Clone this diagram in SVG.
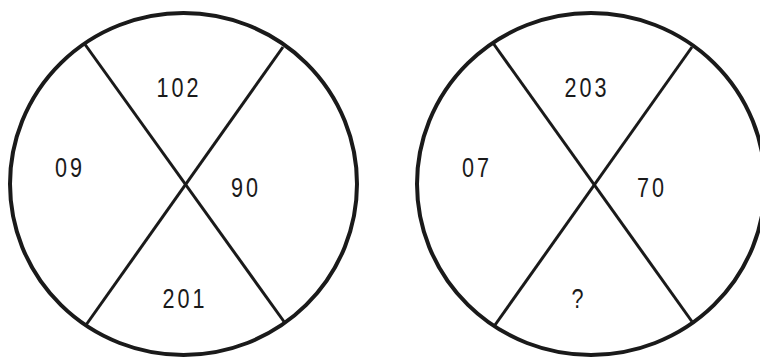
<svg xmlns="http://www.w3.org/2000/svg" width="760" height="358" viewBox="0 0 760 358">
<style>
.c{fill:none;stroke:#1a1a1a;stroke-width:4}
.l{stroke:#1a1a1a;stroke-width:3;stroke-linecap:butt}
.t{font-family:"Liberation Sans",Arial,sans-serif;font-size:27px;fill:#1a1a1a;letter-spacing:3.75px}
</style>
<rect width="760" height="358" fill="#fff"/>
<g id="circle-left">
<ellipse class="c" cx="183.5" cy="184" rx="173.5" ry="171"/>
</g>
<g id="circle-right">
<ellipse class="c" cx="591" cy="184" rx="174" ry="171"/>
</g>
<g id="connectors">
<line class="l" x1="84" y1="43" x2="285" y2="323"/>
<line class="l" x1="283" y1="47" x2="86" y2="325"/>
<line class="l" x1="493" y1="43" x2="693" y2="323"/>
<line class="l" x1="692" y1="47" x2="495" y2="325"/>
</g>
<g id="labels-left">
<text class="t" transform="translate(156.5,97) scale(0.8,1)">102</text>
<text class="t" transform="translate(55,177) scale(0.8,1)">09</text>
<text class="t" transform="translate(231,197) scale(0.8,1)">90</text>
<text class="t" transform="translate(162.5,308) scale(0.8,1)">201</text>
</g>
<g id="labels-right">
<text class="t" transform="translate(564.5,97) scale(0.8,1)">203</text>
<text class="t" transform="translate(462,177) scale(0.8,1)">07</text>
<text class="t" transform="translate(637,197) scale(0.8,1)">70</text>
<text class="t" transform="translate(571.5,308) scale(0.8,1)">?</text>
</g>
</svg>
